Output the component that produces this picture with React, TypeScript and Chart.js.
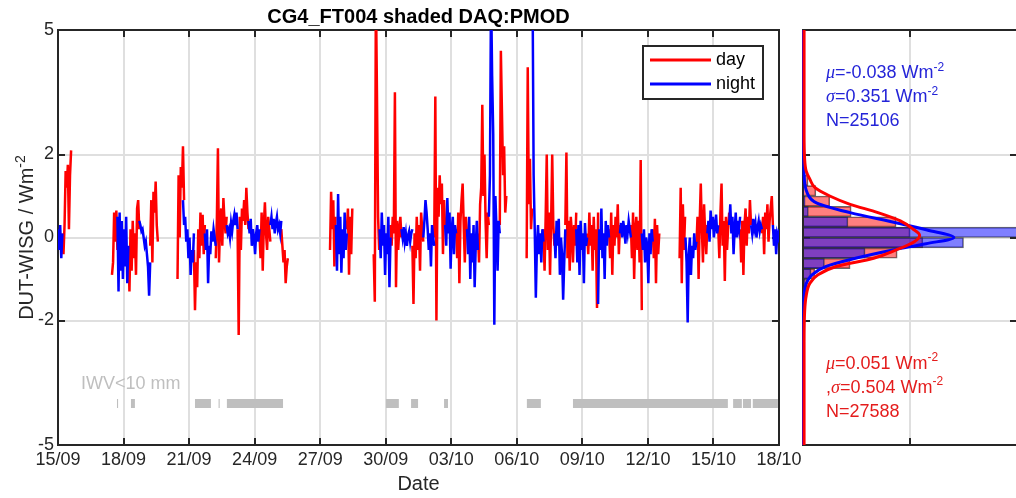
import React, { useEffect, useRef } from 'react';
import { Chart, registerables } from 'chart.js';

Chart.register(...registerables);

const FONT = "'Liberation Sans', Arial, Helvetica, sans-serif";
const GREEK_FONT = "'Liberation Serif', 'DejaVu Serif', serif";
const INK = '#262626';
const GRID = '#dfdfdf';
const DAY_COLOR = '#ff0000';
const NIGHT_COLOR = '#0000ff';
const IWV_COLOR = '#bfbfbf';
const BLUE_TEXT = '#2424d8';
const RED_TEXT = '#e41c1c';

// ---- texts ----
const chartTitle = 'CG4_FT004 shaded DAQ:PMOD';
const xAxisTitle = 'Date';
const yAxisTitle = 'DUT-WISG / Wm';
const yAxisTitleSup = '-2';
const seriesLabels = ['day', 'night'];
const iwvLabel = 'IWV<10 mm';

// ---- axes ----
const xTickDays = [0, 3, 6, 9, 12, 15, 18, 21, 24, 27, 30, 33]; // days since 15/09
const xTickLabels = ['15/09', '18/09', '21/09', '24/09', '27/09', '30/09', '03/10', '06/10', '09/10', '12/10', '15/10', '18/10'];
const yTicks = [-5, -2, 0, 2, 5];
const histXTicks = [0, 1, 2];

// ---- time series (DUT-WISG, Wm-2), runs sampled every DT days ----
const DT = 0.05;
const dayStarts = [0.2, 2.47, 3.22, 4.22, 5.47, 6.22, 7.22, 8.22, 9.22, 10.22, 12.45, 13.22, 14.45, 15.22, 16.22, 17.22, 18.22, 19.22, 20.22, 21.45, 22.22, 23.22, 24.22, 25.22, 26.22, 27.22, 28.45, 29.22, 30.22, 31.22, 32.22];
const dayValues = [
  [0.1, -0.4, 0.3, 1.6, 1.2, 1.75, 0.2, 1.5, 2.1],
  [-0.9, -0.6, 0.6, -0.1, 0.65, -0.3],
  [-0.3, -1.3, 0.2, -0.8, 0.4, -0.5, 0.1, -0.9, 0.7, 0.9, 0.2],
  [-0.2, 0.9, -0.6, 1.1, 0.6, 1.35, 0.3, -0.1],
  [-1.0, 1.5, 0.0, 1.7, 1.2, 2.2, 0.9],
  [-0.3, -1.75, -0.6, -1.2, 0.2, -0.5, 0.6, -0.2, 0.55, -0.4, 0.3],
  [-0.5, 0.4, 2.15, -0.6, 0.3, 0.7, -0.2, 0.95, 0.4, 0.1, 0.5],
  [0.2, -2.35, 0.5, -0.3, 0.7, 0.4, 0.9, 0.3, 1.2, 0.6, 0.2],
  [0.1, -0.5, 0.6, -0.8, 0.3, 0.85, 0.1, -0.3, 0.5, 0.2, -0.1],
  [0.2, -0.2, -0.6, -0.3, -1.1, -0.7, -0.5],
  [-0.3, 1.1, 0.2, 0.9, -0.7, 0.5],
  [0.2, 0.7, -0.9, 0.5, -0.4, 0.7],
  [-0.4, -1.55, 6.0, 3.4, 0.5, -0.3],
  [0.3, -0.2, 0.5, 0.1, 3.5, -1.2, 0.4, -0.3, 0.2, 0.5, 0.0],
  [-0.2, -1.6, 0.1, -0.5, 0.5, -0.3, 0.3, -0.8, 0.6, 0.2, -0.1],
  [0.0, 3.4, -2.0, 1.2, 0.5, 1.5, 0.8, 1.3, -0.4, 0.9, 0.2],
  [0.2, -0.5, 0.6, -1.1, 0.4, 0.9, 1.3, 0.3, -0.6, 0.5, 0.1],
  [0.1, -0.6, 0.8, 1.2, 3.2, 1.0, 2.0, 0.4, -0.5, 0.6, 0.3],
  [0.3, 4.5, 3.0, 1.5, 2.2, 0.6, 1.0],
  [-0.5, 4.1, 0.8, 1.9, 0.2, 0.7],
  [0.2, -0.8, 0.5, 2.0, -0.3, 0.6, -0.9, 0.4, 2.0, 0.3, -0.2],
  [0.3, 2.05, -0.5, 0.4, -0.8, 0.5, 0.1, -0.6, 0.3, -0.2, 0.6],
  [0.1, -0.4, 0.6, -0.2, 0.3, -0.8, 0.5, -0.3, 0.2, -1.7, 0.6],
  [0.2, -0.5, 0.6, -0.9, 0.3, -0.2, 0.5, 0.0, 0.8, -0.4, 0.3],
  [0.3, -0.5, 0.6, -1.0, 0.2, 0.5, -0.3, 0.4, -0.6, 1.87, -1.75],
  [0.2, -0.5, 0.45, -1.1, 0.3, -0.4, 0.1],
  [-0.5, 1.2, -1.1, 0.8, -0.3, 0.5],
  [-0.2, 0.5, -1.0, 0.4, 1.3, 0.2, -0.6, 0.8, 0.1, -0.4, 0.3],
  [0.2, -0.5, 0.6, 1.3, -0.2, 0.4, -1.05, 0.5, -0.3, 0.2, 0.6],
  [0.2, -0.6, 0.4, -0.9, 0.3, 0.7, -0.2, 0.5, 0.1, 0.9, 0.3],
  [0.1, 0.5, -0.4, 0.6, 0.2, 0.8, -0.1, 0.4, 0.7, 1.0, 0.3],
];
const nightStarts = [0.0, 2.72, 3.72, 5.72, 6.72, 7.72, 8.72, 9.72, 12.72, 14.72, 15.72, 16.72, 17.72, 18.72, 19.72, 21.72, 22.72, 23.72, 24.72, 25.72, 26.72, 28.72, 29.72, 30.72, 31.72, 32.72];
const nightValues = [
  [0.2, -0.3, 0.3, -0.5, 0.1],
  [0.5, -1.3, 0.6, -0.8, 0.4, -1.0, 0.2, -0.7, 0.5, -1.1, -0.2],
  [0.4, 0.3, 0.15, 0.2, 0.0, -0.2, -0.1, -0.4, -0.7, -1.4, -0.6],
  [0.9, 0.3, 0.5, -0.1, 0.2, -0.5, 0.0, -0.9, -0.3, -0.6, 0.1],
  [0.1, -0.3, 0.2, -1.1, -0.2, -0.4, 0.15, -0.1, 0.2, 0.0, -0.2],
  [0.3, 0.1, 0.2, 0.0, 0.35, 0.15, 0.4, 0.55, 0.3, 0.6, 0.2],
  [0.4, 0.1, 0.45, -0.2, 0.2, 0.0, -0.4, 0.1, 0.3, -0.1, 0.2],
  [0.3, 0.5, 0.2, 0.45, 0.1, 0.35, 0.5, 0.2, 0.3, 0.1, 0.4],
  [0.3, -0.8, 1.05, -0.4, 0.5, -0.85, 0.2, -0.5, 0.6, -0.3, 0.1],
  [0.2, -0.5, 0.6, -0.2, 0.3, -0.9, 0.1, -0.4, 0.5, -1.2, 0.0],
  [0.2, 0.0, 0.25, -0.1, 0.1, -0.2, 0.05, 0.15, -0.1, 0.1, 0.2],
  [0.0, 0.4, 0.9, 0.6, 0.2, -0.3, 0.1, -0.7, 0.3, 0.0, -0.2],
  [0.3, -0.2, 0.95, 0.1, 0.6, -0.75, 0.2, 0.5, -0.4, 0.3, 0.1],
  [0.2, -0.4, 0.5, -1.0, 0.1, -0.6, 0.3, -1.2, -0.2, 0.4, -0.3],
  [0.5, 1.5, 6.0, 3.9, 2.5, -2.1, 1.0, 0.2, -0.8, 0.4, 0.1],
  [6.0, 1.5, 0.2, -1.45, -0.2, 0.3, -0.4, 0.1, -0.6, 0.2, -0.1],
  [0.1, -0.5, 0.4, -0.2, 0.45, -0.9, 0.0, -0.4, -1.5, -0.6, 0.2],
  [0.2, -0.6, 0.3, -0.9, 0.4, -0.3, 0.1, -1.1, 0.35, -0.2, 0.0],
  [-1.6, 0.2, -0.3, 0.7, -0.5, 0.1, -1.0, 0.4, -0.2, 0.3, 0.0],
  [0.1, 0.35, 0.0, 0.4, 0.2, -0.15, 0.3, 0.1, 0.4, 0.2, 0.0],
  [0.1, -0.3, 0.2, -0.6, 0.0, -0.2, -1.1, 0.1, -0.4, 0.2, -0.1],
  [0.0, -0.6, -2.05, -0.4, 0.0, -0.9, -0.2, -0.5, 0.1, -0.3, -0.1],
  [0.1, 0.4, -0.1, 0.65, 0.2, 0.5, 0.0, 0.3, 0.55, 0.1, 0.3],
  [0.3, 0.8, 0.1, 0.5, -0.4, 0.2, 0.6, 0.0, 0.4, 0.2, 0.5],
  [0.3, 0.1, 0.45, 0.2, 0.35, 0.0, 0.25, 0.4, 0.15, 0.3, 0.2],
  [0.3, -0.2, 0.2, -0.4, 0.1, 0.0, 0.2],
];

// ---- IWV < 10 mm periods (days since 15/09) ----
const iwvStart = [2.7, 3.34, 6.27, 7.35, 7.73, 15.01, 16.16, 17.67, 21.46, 23.57, 30.9, 31.35, 31.8];
const iwvEnd = [2.75, 3.52, 7.0, 7.4, 10.3, 15.6, 16.48, 17.85, 22.1, 30.66, 31.3, 31.72, 32.95];
const IWV_LEVEL = -4;
const iwvLabelAt = { x: 1.05, y: -3.65 };

// ---- histogram (probability density) ----
const histBins = [-1.375, -1.125, -0.875, -0.625, -0.375, -0.125, 0.125, 0.375, 0.625, 0.875, 1.125, 1.375];
const dayHist = [0.02, 0.04, 0.11, 0.44, 0.88, 1.12, 1.0, 0.87, 0.45, 0.25, 0.12, 0.047];
const nightHist = [0.005, 0.02, 0.075, 0.2, 0.58, 1.5, 2.3, 0.42, 0.05, 0.02, 0.005, 0.0];

// fitted curves: level (Wm-2) and density
const dayFitLevel = [-5, -2.5, -1.8, -1.4, -1.1, -0.9, -0.7, -0.5, -0.3, -0.1, 0.05, 0.2, 0.4, 0.6, 0.8, 1.0, 1.2, 1.4, 1.6, 1.9, 2.5, 5];
const dayFitDensity = [0.01, 0.01, 0.015, 0.03, 0.065, 0.14, 0.31, 0.66, 0.87, 1.04, 1.09, 1.03, 0.91, 0.7, 0.44, 0.25, 0.112, 0.065, 0.03, 0.015, 0.01, 0.01];
const nightFitLevel = [-5, -2.5, -1.6, -1.2, -0.9, -0.7, -0.5, -0.3, -0.15, 0.0, 0.18, 0.35, 0.6, 0.83, 1.07, 1.55, 2.5, 5];
const nightFitDensity = [0.005, 0.005, 0.008, 0.02, 0.084, 0.21, 0.49, 0.84, 1.15, 1.41, 1.16, 0.88, 0.44, 0.13, 0.04, 0.01, 0.005, 0.005];

// ---- statistics annotations ----
type Seg = { t: string; greek?: boolean; sup?: boolean };
const nightStatsLines: Seg[][] = [
  [{ t: 'μ', greek: true }, { t: '=-0.038 Wm' }, { t: '-2', sup: true }],
  [{ t: 'σ', greek: true }, { t: '=0.351 Wm' }, { t: '-2', sup: true }],
  [{ t: 'N=25106' }],
];
const dayStatsLines: Seg[][] = [
  [{ t: 'μ', greek: true }, { t: '=0.051 Wm' }, { t: '-2', sup: true }],
  [{ t: ',' }, { t: 'σ', greek: true }, { t: '=0.504 Wm' }, { t: '-2', sup: true }],
  [{ t: 'N=27588' }],
];
const nightStatsAt = { x: 0.215, y: 3.84 };
const dayStatsAt = { x: 0.215, y: -3.17 };

// ---------------------------------------------------------------
function buildRuns(starts: number[], values: number[][]) {
  const pts: any[] = [];
  starts.forEach((s, i) => {
    const vals = values[i];
    vals.forEach((v, j) => pts.push({ x: s + j * DT, y: v }));
    pts.push({ x: s + (vals.length - 0.5) * DT, y: null });
  });
  return pts;
}

function buildIwv() {
  const pts: any[] = [];
  iwvStart.forEach((s, i) => {
    pts.push({ x: s, y: IWV_LEVEL });
    pts.push({ x: iwvEnd[i], y: IWV_LEVEL });
    pts.push({ x: iwvEnd[i] + 0.001, y: null });
  });
  return pts;
}

function segFont(s: Seg, size: number) {
  const fs = s.sup ? Math.round(size * 0.68) : size;
  return s.greek ? `italic ${fs}px ${GREEK_FONT}` : `${fs}px ${FONT}`;
}

function richWidth(ctx: CanvasRenderingContext2D, segs: Seg[], size: number) {
  let w = 0;
  for (const s of segs) {
    ctx.font = segFont(s, size);
    w += ctx.measureText(s.t).width;
  }
  return w;
}

function drawRich(ctx: CanvasRenderingContext2D, segs: Seg[], x: number, y: number, size: number, color: string) {
  let cx = x;
  ctx.fillStyle = color;
  ctx.textAlign = 'left';
  ctx.textBaseline = 'alphabetic';
  for (const s of segs) {
    ctx.font = segFont(s, size);
    ctx.fillText(s.t, cx, y + (s.sup ? -size * 0.42 : 0));
    cx += ctx.measureText(s.t).width;
  }
}

function drawFrame(chart: any, xt: number[], yt: number[]) {
  const { ctx, chartArea: a, scales } = chart;
  ctx.save();
  ctx.strokeStyle = INK;
  ctx.lineWidth = 2;
  ctx.strokeRect(a.left, a.top, a.right - a.left, a.bottom - a.top);
  ctx.beginPath();
  for (const v of xt) {
    const p = Math.round(scales.x.getPixelForValue(v));
    ctx.moveTo(p, a.top);
    ctx.lineTo(p, a.top + 7);
    ctx.moveTo(p, a.bottom);
    ctx.lineTo(p, a.bottom - 7);
  }
  for (const v of yt) {
    const p = Math.round(scales.y.getPixelForValue(v));
    ctx.moveTo(a.left, p);
    ctx.lineTo(a.left + 7, p);
    ctx.moveTo(a.right, p);
    ctx.lineTo(a.right - 7, p);
  }
  ctx.stroke();
  ctx.restore();
}

const mainDecor = {
  id: 'mainDecor',
  beforeDatasetsDraw(chart: any) {
    drawFrame(chart, xTickDays, yTicks);
  },
  afterDatasetsDraw(chart: any) {
    const { ctx, chartArea: a, scales } = chart;
    ctx.save();
    // IWV label
    ctx.font = `18px ${FONT}`;
    ctx.fillStyle = IWV_COLOR;
    ctx.textAlign = 'left';
    ctx.textBaseline = 'alphabetic';
    ctx.fillText(iwvLabel, scales.x.getPixelForValue(iwvLabelAt.x), scales.y.getPixelForValue(iwvLabelAt.y));

    // legend
    const bw = 120, bh = 53;
    const bx = a.right - 16 - bw, by = a.top + 16;
    ctx.fillStyle = '#ffffff';
    ctx.fillRect(bx, by, bw, bh);
    ctx.strokeStyle = INK;
    ctx.lineWidth = 2;
    ctx.strokeRect(bx, by, bw, bh);
    const colors = [DAY_COLOR, NIGHT_COLOR];
    seriesLabels.forEach((lab, i) => {
      const ly = by + 14 + i * 24;
      ctx.strokeStyle = colors[i];
      ctx.lineWidth = 3;
      ctx.beginPath();
      ctx.moveTo(bx + 7, ly);
      ctx.lineTo(bx + 68, ly);
      ctx.stroke();
      ctx.fillStyle = '#000';
      ctx.font = `18px ${FONT}`;
      ctx.textBaseline = 'middle';
      ctx.fillText(lab, bx + 73, ly);
    });

    // title
    const cx = (a.left + a.right) / 2;
    ctx.fillStyle = '#000';
    ctx.textAlign = 'center';
    ctx.textBaseline = 'alphabetic';
    ctx.font = `bold 20px ${FONT}`;
    ctx.fillText(chartTitle, cx, a.top - 7);

    // x title
    ctx.fillStyle = INK;
    ctx.font = `20px ${FONT}`;
    ctx.fillText(xAxisTitle, cx, a.bottom + 45);

    // y title
    const segs: Seg[] = [{ t: yAxisTitle }, { t: yAxisTitleSup, sup: true }];
    const w = richWidth(ctx, segs, 20);
    ctx.translate(a.left - 25, (a.top + a.bottom) / 2);
    ctx.rotate(-Math.PI / 2);
    drawRich(ctx, segs, -w / 2, 0, 20, INK);
    ctx.restore();
  },
};

const histDecor = {
  id: 'histDecor',
  beforeDatasetsDraw(chart: any) {
    drawFrame(chart, histXTicks, yTicks);
  },
  afterDatasetsDraw(chart: any) {
    const { ctx, scales } = chart;
    ctx.save();
    const put = (lines: Seg[][], at: { x: number; y: number }, color: string) => {
      const x = scales.x.getPixelForValue(at.x);
      const y0 = scales.y.getPixelForValue(at.y);
      lines.forEach((segs, i) => drawRich(ctx, segs, x, y0 + i * 24, 18, color));
    };
    put(nightStatsLines, nightStatsAt, BLUE_TEXT);
    put(dayStatsLines, dayStatsAt, RED_TEXT);
    ctx.restore();
  },
};

function gridOpts() {
  return { color: GRID, lineWidth: 2, drawTicks: false };
}

export default function App() {
  const mainRef = useRef<HTMLCanvasElement>(null);
  const histRef = useRef<HTMLCanvasElement>(null);

  useEffect(() => {
    Chart.defaults.font.family = FONT;
    const tickFont = { size: 18, family: FONT };

    const main = new Chart(mainRef.current as HTMLCanvasElement, {
      type: 'line',
      data: {
        datasets: [
          { label: seriesLabels[1], data: buildRuns(nightStarts, nightValues), borderColor: NIGHT_COLOR, borderWidth: 2.5, pointRadius: 0, spanGaps: false, order: 0 },
          { label: seriesLabels[0], data: buildRuns(dayStarts, dayValues), borderColor: DAY_COLOR, borderWidth: 2.5, pointRadius: 0, spanGaps: false, order: 1 },
          { label: iwvLabel, data: buildIwv(), borderColor: IWV_COLOR, borderWidth: 9, borderCapStyle: 'butt', pointRadius: 0, spanGaps: false, order: 2 },
        ] as any,
      },
      options: {
        responsive: false,
        maintainAspectRatio: false,
        animation: false,
        devicePixelRatio: 1,
        events: [],
        layout: { padding: { left: 0, right: 237, top: 30, bottom: 0 } },
        plugins: { legend: { display: false }, tooltip: { enabled: false }, title: { display: false } },
        scales: {
          x: {
            type: 'linear', min: 0, max: 33,
            afterBuildTicks: (s: any) => { s.ticks = xTickDays.map((v) => ({ value: v })); },
            afterFit: (s: any) => { s.height = 53; },
            ticks: { autoSkip: false, maxRotation: 0, minRotation: 0, padding: 4, color: INK, font: tickFont, callback: (_v: any, i: number) => xTickLabels[i] },
            grid: gridOpts(),
            border: { display: false },
          },
          y: {
            type: 'linear', min: -5, max: 5,
            afterBuildTicks: (s: any) => { s.ticks = yTicks.map((v) => ({ value: v })); },
            afterFit: (s: any) => { s.width = 58; },
            ticks: { padding: 4, color: INK, font: tickFont },
            grid: gridOpts(),
            border: { display: false },
          },
        },
      } as any,
      plugins: [mainDecor],
    });

    const hist = new Chart(histRef.current as HTMLCanvasElement, {
      type: 'bar',
      data: {
        datasets: [
          { type: 'line', label: 'day fit', data: dayFitLevel.map((y, i) => ({ x: dayFitDensity[i], y })), borderColor: DAY_COLOR, borderWidth: 3, pointRadius: 0, cubicInterpolationMode: 'monotone', clip: false, order: 0 },
          { type: 'line', label: 'night fit', data: nightFitLevel.map((y, i) => ({ x: nightFitDensity[i], y })), borderColor: NIGHT_COLOR, borderWidth: 3, pointRadius: 0, cubicInterpolationMode: 'monotone', clip: false, order: 1 },
          { type: 'bar', label: 'night', data: histBins.map((y, i) => ({ x: nightHist[i], y })), backgroundColor: 'rgba(0,0,255,0.5)', borderColor: 'rgba(40,40,40,0.7)', borderWidth: 1, grouped: false, barPercentage: 1, categoryPercentage: 1, order: 2 },
          { type: 'bar', label: 'day', data: histBins.map((y, i) => ({ x: dayHist[i], y })), backgroundColor: 'rgba(255,0,0,0.5)', borderColor: 'rgba(40,40,40,0.7)', borderWidth: 1, grouped: false, barPercentage: 1, categoryPercentage: 1, order: 3 },
        ] as any,
      },
      options: {
        indexAxis: 'y',
        responsive: false,
        maintainAspectRatio: false,
        animation: false,
        devicePixelRatio: 1,
        events: [],
        layout: { padding: { left: 23, right: 23, top: 30, bottom: 53 } },
        plugins: { legend: { display: false }, tooltip: { enabled: false } },
        scales: {
          x: {
            type: 'linear', min: 0, max: 2, offset: false,
            afterBuildTicks: (s: any) => { s.ticks = histXTicks.map((v) => ({ value: v })); },
            afterFit: (s: any) => { s.height = 0; },
            ticks: { display: false },
            grid: { ...gridOpts(), offset: false },
            border: { display: false },
          },
          y: {
            type: 'linear', min: -5, max: 5, offset: false,
            afterBuildTicks: (s: any) => { s.ticks = yTicks.map((v) => ({ value: v })); },
            afterFit: (s: any) => { s.width = 0; },
            ticks: { display: false },
            grid: { ...gridOpts(), offset: false },
            border: { display: false },
          },
        },
      } as any,
      plugins: [histDecor],
    });

    return () => {
      main.destroy();
      hist.destroy();
    };
  }, []);

  return (
    <div style={{ position: 'fixed', left: 0, top: 0, width: 1016, height: 498, overflow: 'hidden', background: '#ffffff' }}>
      <canvas ref={mainRef} width={1016} height={498} style={{ position: 'absolute', left: 0, top: 0 }} />
      <canvas ref={histRef} width={260} height={498} style={{ position: 'absolute', left: 780, top: 0 }} />
    </div>
  );
}
